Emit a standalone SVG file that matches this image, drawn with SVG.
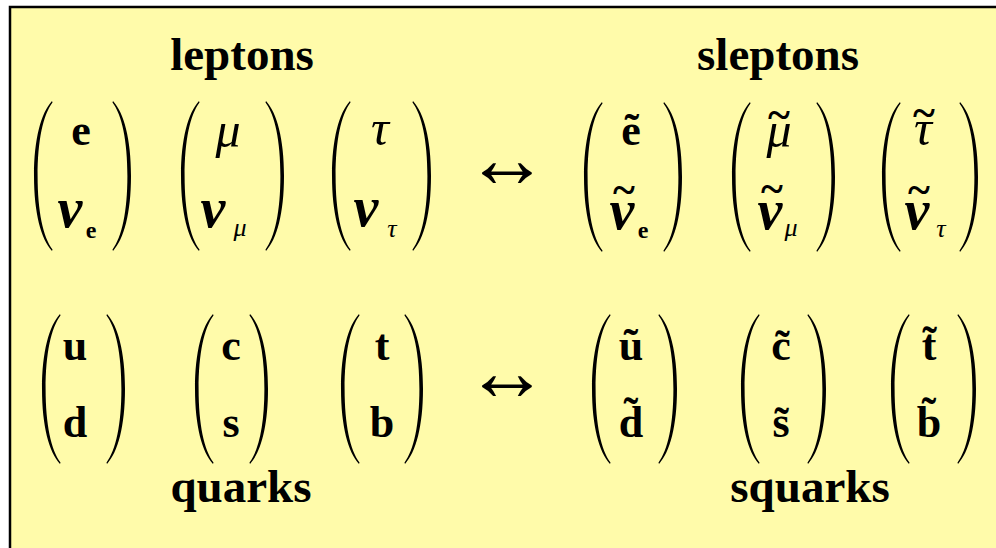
<svg xmlns="http://www.w3.org/2000/svg" xmlns:xlink="http://www.w3.org/1999/xlink" width="996" height="548" viewBox="0 0 996 548">
<style>
text{font-family:"Liberation Serif","Times New Roman",serif;fill:#000;text-anchor:middle}
.lbl{font-weight:bold;font-size:47px}
.b{font-weight:bold;font-size:44px}
.g{font-style:italic;font-size:50px}
.nu{font-style:italic;font-weight:bold;font-size:56px}
.sb{font-weight:bold;font-size:24px}
.sg{font-style:italic;font-size:26px}
.tl{font-weight:bold;font-size:42px}
.arr{font-size:84px}
</style>
<defs>
<path id="lp" d="M18,0 C7,12 0,38 0,75 C0,112 7,138 18,150 L18.5,148.5 C9,136 3.6,110 3.6,75 C3.6,40 9,14 18.5,1.5 Z"/>
<path id="rp" d="M0,0 C11,12 18,38 18,75 C18,112 11,138 0,150 L-0.5,148.5 C9,136 14.4,110 14.4,75 C14.4,40 9,14 -0.5,1.5 Z"/>
</defs>
<rect x="10" y="7" width="1000" height="560" fill="#FFFBAA" stroke="#000" stroke-width="2.5"/>
<g id="labels">
<text class="lbl" x="242" y="70">leptons</text>
<text class="lbl" x="778" y="70">sleptons</text>
<text class="lbl" x="241" y="502">quarks</text>
<text class="lbl" x="810" y="502">squarks</text>
</g>
<g id="lepton-e">
<use xlink:href="#lp" x="34" y="101"/><use xlink:href="#rp" x="113" y="101"/>
<text class="b" x="81" y="145">e</text>
<text class="nu" x="70" y="227">ν</text><text class="sb" x="91" y="238">e</text>
</g>
<g id="lepton-mu">
<use xlink:href="#lp" x="181" y="101"/><use xlink:href="#rp" x="266" y="101"/>
<text class="g" x="228" y="147">μ</text>
<text class="nu" x="213" y="227">ν</text><text class="sg" x="240" y="236">μ</text>
</g>
<g id="lepton-tau">
<use xlink:href="#lp" x="332" y="101"/><use xlink:href="#rp" x="413" y="101"/>
<text class="g" x="380" y="145">τ</text>
<text class="nu" x="366" y="226">ν</text><text class="sg" x="392" y="237">τ</text>
</g>
<g id="slepton-e">
<use xlink:href="#lp" x="584" y="102"/><use xlink:href="#rp" x="664" y="102"/>
<text class="b" x="631" y="145">ẽ</text>
<text class="nu" x="622" y="229">ν</text><text class="tl" x="624" y="204">~</text><text class="sb" x="643" y="238">e</text>
</g>
<g id="slepton-mu">
<use xlink:href="#lp" x="732" y="102"/><use xlink:href="#rp" x="817" y="102"/>
<text class="g" x="779" y="147">μ</text><text class="tl" x="779" y="129">~</text>
<text class="nu" x="770" y="229">ν</text><text class="tl" x="772" y="203">~</text><text class="sg" x="791" y="236">μ</text>
</g>
<g id="slepton-tau">
<use xlink:href="#lp" x="882" y="102"/><use xlink:href="#rp" x="960" y="102"/>
<text class="g" x="923" y="145">τ</text><text class="tl" x="924" y="127">~</text>
<text class="nu" x="917" y="229">ν</text><text class="tl" x="919" y="204">~</text><text class="sg" x="941" y="237">τ</text>
</g>
<g id="quark-ud">
<use xlink:href="#lp" x="42" y="314"/><use xlink:href="#rp" x="107" y="314"/>
<text class="b" x="75" y="360">u</text><text class="b" x="75" y="437">d</text>
</g>
<g id="quark-cs">
<use xlink:href="#lp" x="195" y="314"/><use xlink:href="#rp" x="250" y="314"/>
<text class="b" x="231" y="360">c</text><text class="b" x="231" y="437">s</text>
</g>
<g id="quark-tb">
<use xlink:href="#lp" x="341" y="314"/><use xlink:href="#rp" x="405" y="314"/>
<text class="b" x="382" y="360">t</text><text class="b" x="382" y="437">b</text>
</g>
<g id="squark-ud">
<use xlink:href="#lp" x="592" y="314"/><use xlink:href="#rp" x="659" y="314"/>
<text class="b" x="631" y="360">ũ</text><text class="b" x="631" y="437">d̃</text>
</g>
<g id="squark-cs">
<use xlink:href="#lp" x="741" y="314"/><use xlink:href="#rp" x="808" y="314"/>
<text class="b" x="781" y="360">c̃</text><text class="b" x="781" y="437">s̃</text>
</g>
<g id="squark-tb">
<use xlink:href="#lp" x="891" y="314"/><use xlink:href="#rp" x="958" y="314"/>
<text class="b" x="929" y="360">t̃</text><text class="b" x="929" y="437">b̃</text>
</g>
<g id="connectors">
<text class="arr" x="507" y="187">↔</text>
<text class="arr" x="507" y="400">↔</text>
</g>
</svg>
